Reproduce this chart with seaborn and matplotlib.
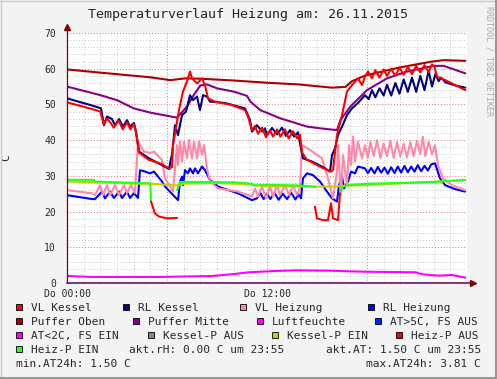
import matplotlib
matplotlib.use("Agg")
import matplotlib.pyplot as plt
import seaborn as sns
from matplotlib.patches import Rectangle
from matplotlib.lines import Line2D

# stunden (0..24) und temperaturen
oben_t = [0, 2.0, 5.0, 6.2, 7.1, 8.0, 10.0, 11.9, 13.9, 15.9, 16.7, 17.1, 17.9, 19.9, 21.9, 22.6, 23.9]
oben_v = [59.8, 58.9, 57.6, 56.8, 57.3, 57.2, 56.7, 56.1, 55.6, 54.7, 54.9, 56.5, 58.1, 60.3, 62.0, 62.4, 62.2]

mitte_t = [0, 2.0, 3.0, 4.0, 5.0, 6.6, 7.2, 7.6, 8.0, 8.4, 9.0, 10.0, 10.8, 11.0, 11.6, 12.8, 14.4,
           15.2, 16.2, 16.4, 17.0, 18.0, 19.2, 20.4, 22.0, 22.6, 23.9]
mitte_v = [55.0, 52.6, 51.2, 48.9, 47.7, 46.3, 49.4, 52.6, 55.3, 55.6, 54.5, 53.6, 52.4, 50.8, 48.4, 46.1, 43.8,
           43.3, 42.8, 45.6, 49.4, 54.0, 57.3, 59.2, 60.8, 60.8, 58.7]

rlk_t = [0, 1.5, 2.04, 2.22, 2.4, 2.7, 2.88, 3.12, 3.36, 3.6, 3.78, 4.02, 4.14, 4.32, 4.92, 5.7, 6.12, 6.24,
         6.3, 6.48, 6.66, 6.9, 7.14, 7.38, 7.56, 7.8, 7.98, 8.16, 8.4, 8.58, 9.48, 10.68, 10.98, 11.1, 11.4,
         11.7, 11.88, 12.0, 12.3, 12.6, 12.9, 13.14, 13.38, 13.62, 13.86, 14.04, 14.16, 14.7, 15.3, 15.78,
         15.9, 16.08, 16.26, 16.5, 16.8, 17.1, 17.46, 17.88, 18.1, 18.3, 18.5, 18.75, 19.0, 19.2, 19.45,
         19.7, 19.95, 20.2, 20.45, 20.7, 20.95, 21.2, 21.45, 21.7, 21.9, 22.1, 22.3, 22.45, 22.7, 23.3, 23.9]
rlk_v = [51.7, 49.7, 48.9, 44.2, 46.6, 45.9, 44.2, 45.9, 43.8, 45.6, 43.8, 44.8, 42.4, 36.8, 34.9, 33.0, 31.9, 34.9,
         35.8, 44.2, 41.4, 47.0, 48.0, 52.6, 51.2, 52.2, 48.4, 52.6, 52.2, 50.8, 50.4, 48.9, 45.6, 42.4, 44.2,
         42.4, 43.3, 41.4, 43.4, 41.6, 43.5, 41.2, 42.8, 41.0, 42.2, 37.7, 34.9, 34.0, 32.6, 31.2,
         35.8, 37.7, 41.4, 43.8, 47.0, 48.9, 50.4, 52.6, 51.5, 54.0, 52.0, 54.5, 52.5, 55.5, 52.5,
         56.0, 53.0, 57.0, 53.5, 57.5, 53.5, 58.0, 54.0, 59.5, 55.0, 58.5, 56.5, 57.5, 56.2, 55.3, 54.7]

vlk_t = [0, 1.5, 2.0, 2.2, 2.4, 2.6, 2.8, 3.1, 3.35, 3.6, 3.8, 4.0, 4.15, 4.32, 4.9, 5.7, 6.12, 6.3, 6.36,
         6.6, 6.78, 6.96, 7.2, 7.38, 7.5, 7.8, 8.1, 8.28, 8.46, 8.88, 9.9, 10.68, 10.86, 11.1, 11.28, 11.46,
         11.7, 11.94, 12.18, 12.36, 12.6, 12.8, 13.08, 13.3, 13.56, 13.8, 13.98, 14.1, 14.4, 14.8, 15.3,
         15.84, 15.96, 16.2, 16.5, 16.8, 17.1, 17.46, 17.7, 17.88, 18.06, 18.3, 18.5, 18.75, 19.0, 19.2,
         19.45, 19.7, 19.95, 20.2, 20.45, 20.7, 20.95, 21.2, 21.45, 21.7, 21.9, 22.05, 22.2, 22.7, 23.3, 23.9]
vlk_v = [50.6, 48.7, 48.0, 44.5, 46.0, 45.0, 43.5, 45.5, 43.0, 45.0, 43.0, 44.5, 42.0, 36.5, 34.5, 33.3, 32.0, 32.5, 38.6,
         45.2, 49.8, 53.6, 56.4, 59.2, 57.3, 55.9, 57.3, 55.4, 51.7, 50.8, 49.8, 48.4, 46.6, 42.8, 44.0, 41.8,
         43.5, 40.8, 42.8, 41.0, 43.0, 41.0, 43.0, 40.5, 42.5, 40.5, 41.5, 36.5, 34.5, 33.5, 32.3,
         31.2, 31.6, 41.4, 47.0, 53.6, 55.4, 57.3, 55.4, 57.8, 59.2, 57.3, 59.6, 57.5, 59.8, 58.0,
         60.0, 58.0, 60.3, 58.3, 60.5, 58.5, 60.8, 59.0, 61.0, 59.0, 61.2, 60.5, 57.8, 56.8, 55.4, 54.0]

vlh_t = [0, 1.5, 1.68, 1.98, 2.16, 2.4, 2.58, 2.88, 3.12, 3.42, 3.6, 3.84, 4.08, 4.26, 4.38, 4.62, 4.98, 5.22,
         5.7, 5.88, 6.36, 6.6, 6.66, 6.78, 6.9, 7.02, 7.2, 7.32, 7.5, 7.62, 7.8, 7.92, 8.1, 8.22, 8.4, 8.58,
         9.06, 10.26, 11.1, 11.28, 11.46, 11.7, 11.94, 12.18, 12.36, 12.6, 12.78, 13.08, 13.32, 13.56, 13.8,
         13.98, 14.1, 14.4, 14.88, 15.3, 15.66, 15.96, 16.2, 16.26, 16.44, 16.56, 16.8, 16.92, 17.04, 17.16,
         17.28, 17.46, 17.7, 17.88, 18.05, 18.2, 18.4, 18.6, 18.8, 19.0, 19.2, 19.4, 19.6, 19.8, 20.0, 20.2,
         20.4, 20.6, 20.8, 21.0, 21.2, 21.35, 21.5, 21.7, 21.9, 22.08, 22.26, 22.56, 23.1, 23.88]
vlh_v = [26.0, 25.1, 24.6, 27.4, 24.6, 27.4, 24.6, 27.4, 24.6, 27.4, 25.2, 27.4, 25.2, 39.6, 38.6, 36.8, 36.4, 36.8,
         34.4, 29.4, 25.6, 38.6, 33.0, 39.6, 34.0, 39.6, 34.9, 40.0, 34.9, 39.6, 34.9, 39.6, 35.8, 38.6, 32.1, 28.4,
         26.5, 25.6, 24.2, 26.5, 24.2, 27.0, 23.7, 27.0, 24.2, 27.4, 24.6, 27.4, 24.6, 27.4, 24.6,
         26.6, 38.6, 37.8, 36.3, 34.9, 29.3, 23.7, 31.2, 38.6, 24.6, 35.8, 27.4, 38.6, 33.0, 41.0,
         34.0, 39.6, 34.9, 38.6, 35.0, 39.5, 35.5, 40.0, 35.0, 39.0, 35.5, 39.8, 35.0, 39.5, 35.5, 39.0,
         35.2, 39.5, 35.5, 39.8, 36.0, 41.0, 35.5, 39.5, 36.0, 38.6, 33.0, 29.3, 27.4, 26.0]

rlh_t = [0, 1.5, 1.68, 2.1, 2.28, 2.58, 2.82, 3.12, 3.3, 3.6, 3.78, 4.02, 4.26, 4.38, 4.68, 4.98, 5.22, 5.7,
         5.88, 6.66, 6.78, 6.9, 6.96, 7.08, 7.26, 7.38, 7.56, 7.68, 7.86, 8.1, 8.28, 8.58, 9.06, 10.26, 11.1,
         11.4, 11.6, 11.8, 12.0, 12.2, 12.45, 12.7, 12.95, 13.2, 13.45, 13.7, 13.9, 14.04, 14.16, 14.4, 14.76,
         15.18, 15.6, 15.9, 16.2, 16.32, 16.5, 16.62, 16.86, 17.04, 17.28, 17.46, 17.88, 18.05, 18.25, 18.45,
         18.65, 18.85, 19.05, 19.25, 19.45, 19.65, 19.85, 20.05, 20.25, 20.45, 20.65, 20.85, 21.05, 21.25,
         21.45, 21.65, 21.85, 22.08, 22.38, 22.68, 23.28, 23.88]
rlh_v = [24.6, 23.5, 23.5, 25.6, 23.7, 25.6, 23.8, 25.6, 23.8, 25.6, 23.8, 25.2, 23.8, 31.6, 31.2, 30.7, 31.2, 28.4,
         27.0, 23.2, 28.4, 29.8, 27.4, 31.6, 30.7, 32.1, 30.7, 32.1, 30.7, 32.6, 31.6, 28.8, 27.0, 25.1, 23.2,
         23.7, 25.2, 23.5, 25.0, 23.5, 25.2, 23.3, 25.0, 23.5, 25.3, 23.4, 24.8, 23.7, 29.3, 30.7, 30.2,
         28.4, 25.6, 23.7, 22.8, 27.4, 29.8, 26.5, 28.4, 31.2, 30.7, 32.6, 32.1, 30.8, 32.2, 30.7,
         32.5, 30.9, 32.3, 30.6, 32.4, 30.8, 32.6, 30.9, 32.8, 31.0, 32.6, 31.2, 33.0, 31.3,
         32.8, 31.5, 33.2, 33.5, 29.3, 27.4, 26.3, 25.6]

kp_ein_t = [0, 2.0, 4.0, 5.0, 6.0, 6.6, 7.0, 9.0, 11.0, 12.0, 14.0, 15.0, 16.0, 16.5, 18.0, 20.0, 22.0, 23.9]
kp_ein_v = [28.4, 28.2, 27.8, 27.8, 27.5, 27.3, 27.8, 28.0, 27.6, 27.0, 27.0, 27.0, 27.0, 27.2, 27.4, 27.9, 28.3, 28.8]

# heizungspumpe: gruen wenn an, rot wenn aus
hp_ein = [
    ([0, 1.6, 1.7, 5.0, 5.04], [28.9, 28.9, 28.4, 27.9, 22.8]),
    ([6.6, 6.66, 6.78, 8.0, 10.0, 11.1, 11.2, 12.0, 13.0, 14.0, 14.76, 14.88],
     [26.0, 26.6, 28.3, 28.3, 28.2, 27.8, 27.3, 27.5, 27.4, 27.3, 27.0, 26.8]),
    ([16.38, 16.56, 17.0, 18.0, 20.0, 22.0, 23.0, 23.9], [25.1, 27.0, 27.5, 27.8, 28.0, 28.3, 28.6, 28.8]),
]
hp_aus = [
    ([5.04, 5.28, 5.52, 6.0, 6.6], [22.8, 19.5, 18.6, 18.1, 18.2]),
    ([14.88, 15.0, 15.36, 15.66, 15.84, 15.96, 16.26, 16.38], [21.4, 18.1, 17.6, 17.6, 22.3, 18.1, 17.6, 25.1]),
]

at_t = [0, 1.5, 5.7, 8.7, 10.0, 10.9, 12.5, 13.7, 15.7, 17.7, 20.9, 21.3, 22.3, 23.1, 23.3, 23.9]
at_v = [1.96, 1.7, 1.7, 1.96, 2.5, 3.0, 3.36, 3.55, 3.45, 3.17, 3.0, 2.45, 2.05, 2.24, 2.05, 1.5]

legend_rows = [
    [("VL Kessel", "#ff0000"), ("RL Kessel", "#000080"), ("VL Heizung", "#ff88aa"), ("RL Heizung", "#0000ff")],
    [("Puffer Oben", "#aa0000"), ("Puffer Mitte", "#880088"), ("Luftfeuchte", "#ff00ff"), ("AT>5C, FS AUS", "#0022ff")],
    [("AT<2C, FS EIN", "#ff00ff"), ("Kessel-P AUS", "#888888"), ("Kessel-P EIN", "#cccc00"), ("Heiz-P AUS", "#ff0000")],
]
legend_box_x = [[16, 123, 240, 368], [16, 133, 257, 375], [16, 148, 272, 396]]

sns.set_theme(style="white")
plt.rcParams["font.family"] = ["DejaVu Sans Mono"]

W, H = 497, 379
fig = plt.figure(figsize=(W / 100, H / 100), dpi=100)
fig.patch.set_facecolor("#f3f3f3")
ax = fig.add_axes([67 / W, 1 - 283 / H, 400 / W, 250 / H])
ax.set_facecolor("white")

lw = 1.5
sns.lineplot(x=oben_t, y=oben_v, color="#aa0000", lw=lw, ax=ax, estimator=None)
sns.lineplot(x=mitte_t, y=mitte_v, color="#880088", lw=lw, ax=ax, estimator=None)
sns.lineplot(x=rlh_t, y=rlh_v, color="#0000ff", lw=lw, ax=ax, estimator=None)
sns.lineplot(x=vlh_t, y=vlh_v, color="#ff88aa", lw=lw, ax=ax, estimator=None)
sns.lineplot(x=rlk_t, y=rlk_v, color="#000080", lw=lw, ax=ax, estimator=None)
sns.lineplot(x=vlk_t, y=vlk_v, color="#ff0000", lw=lw, ax=ax, estimator=None)
sns.lineplot(x=kp_ein_t, y=kp_ein_v, color="#cccc00", lw=lw, ax=ax, estimator=None)
for t, v in hp_ein:
    sns.lineplot(x=t, y=v, color="#22ff22", lw=lw, ax=ax, estimator=None)
for t, v in hp_aus:
    sns.lineplot(x=t, y=v, color="#ff0000", lw=lw, ax=ax, estimator=None)
sns.lineplot(x=at_t, y=at_v, color="#ff00ff", lw=lw, ax=ax, estimator=None)

ax.set_xlim(0, 24)
ax.set_ylim(0, 70)
ax.set_xticks([0, 6, 12, 18, 24])
ax.set_xticklabels(["Do 00:00", "", "Do 12:00", "", ""])
ax.set_xticks(range(0, 25), minor=True)
ax.set_yticks(range(0, 71, 10))
ax.set_yticks(range(0, 71, 2), minor=True)
ax.grid(which="minor", color="#c8c8c8", ls=(0, (1, 2)), lw=0.7)
ax.grid(which="major", color="#e07070", ls=(0, (1, 2)), lw=0.7)
ax.set_axisbelow(True)
ax.tick_params(which="both", length=2, width=0.7, color="#555555", direction="out", pad=2, labelsize=7)
ax.tick_params(axis="y", pad=6)
for s in ax.spines.values():
    s.set_visible(False)
ax.set_xlabel("")
ax.set_ylabel("C", fontsize=8, labelpad=24)

# achsen mit pfeilen wie rrdtool
ax.plot([0, 0], [0, 71.5], color="#800000", lw=0.9, clip_on=False, zorder=5)
ax.plot([0, 24.3], [0, 0], color="#701060", lw=1.2, clip_on=False, zorder=5)
ax.plot([0], [71.6], marker="^", color="#800000", ms=4, clip_on=False, zorder=6)
ax.plot([24.35], [0], marker=">", color="#800000", ms=4, clip_on=False, zorder=6)

fig.text(248 / W, 1 - 18 / H, "Temperaturverlauf Heizung am: 26.11.2015", ha="center", va="baseline", fontsize=9.6)
fig.text(489 / W, 1 - 6 / H, "RRDTOOL / TOBI OETIKER", rotation=270, ha="center", va="top", fontsize=6, color="#aaaaaa")

base = [311, 325, 339, 353, 366.6]
for r, row in enumerate(legend_rows):
    for (name, col), bx in zip(row, legend_box_x[r]):
        fig.add_artist(Rectangle((bx / W, 1 - (base[r] - 1) / H), 6 / W, 6 / H, transform=fig.transFigure,
                                 facecolor=col, edgecolor="black", lw=0.6))
        fig.text((bx + 15) / W, 1 - base[r] / H, name, ha="left", va="baseline", fontsize=8)
fig.add_artist(Rectangle((16 / W, 1 - (base[3] - 1) / H), 6 / W, 6 / H, transform=fig.transFigure,
                         facecolor="#22ff22", edgecolor="black", lw=0.6))
fig.text(31 / W, 1 - base[3] / H, "Heiz-P EIN", ha="left", va="baseline", fontsize=8)
fig.text(129 / W, 1 - base[3] / H, "akt.rH: 0.00 C um 23:55", ha="left", va="baseline", fontsize=8)
fig.text(481 / W, 1 - base[3] / H, "akt.AT: 1.50 C um 23:55", ha="right", va="baseline", fontsize=8)
fig.text(16 / W, 1 - base[4] / H, "min.AT24h: 1.50 C", ha="left", va="baseline", fontsize=8)
fig.text(481 / W, 1 - base[4] / H, "max.AT24h: 3.81 C", ha="right", va="baseline", fontsize=8)

# rahmen
fig.add_artist(Line2D([0, 1], [1 - 0.5 / H, 1 - 0.5 / H], color="#cbcbcb", lw=1, transform=fig.transFigure))
fig.add_artist(Line2D([0.5 / W, 0.5 / W], [0, 1], color="#cbcbcb", lw=1, transform=fig.transFigure))
fig.add_artist(Line2D([0, 1], [1.5 / H, 1.5 / H], color="#999999", lw=1.5, transform=fig.transFigure))
fig.add_artist(Line2D([1 - 1.5 / W, 1 - 1.5 / W], [0, 1], color="#999999", lw=1.5, transform=fig.transFigure))

fig.savefig("out.png", dpi=100, facecolor=fig.get_facecolor())
